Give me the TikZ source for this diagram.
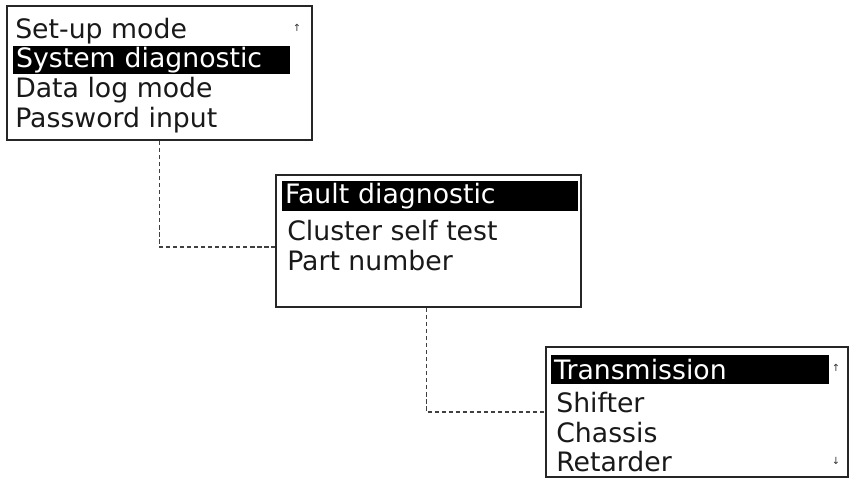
\documentclass[tikz,border=0pt]{standalone}
\usepackage{fontspec}
\setmainfont{DejaVu Sans}
\usetikzlibrary{positioning}

\begin{document}
\begin{tikzpicture}[x=0.025cm,y=-0.025cm,
  frame/.style={draw=black!85,line width=1.3pt,inner sep=0pt},
  item/.style={anchor=west,inner sep=0pt,text=black!90,font=\fontsize{19}{22}\selectfont},
  chosen/.style={item,fill=black,text=white,inner xsep=2pt,align=left,minimum height=0.72cm},
  scrollhint/.style={inner sep=0pt,text=black!80,font=\fontsize{7}{8}\selectfont},
  link/.style={densely dashed,line width=0.8pt,black!75}]
  \useasboundingbox (0,0) rectangle (853,480);
  % main menu
  \node[frame,minimum width=7.625cm,minimum height=3.35cm] (setup) at (159.5,73) {};
  \node[item] (s1) at (15,31) {Set-up mode};
  \node[chosen,text width=6.775cm] (s2) at (13,60) {System diagnostic};
  \node[item] (s3) at (15,90) {Data log mode};
  \node[item] (s4) at (15,120) {Password input};
  \node[scrollhint] (sup) at (297,28) {↑};
  % system diagnostic menu
  \node[frame,minimum width=7.625cm,minimum height=3.3cm] (diag) at (428.5,241) {};
  \node[chosen,text width=7.25cm,minimum height=0.75cm] (d1) at (282,196) {Fault diagnostic};
  \node[item] (d2) at (287,231) {Cluster self test};
  \node[item] (d3) at (287,261) {Part number};
  % fault diagnostic menu
  \node[frame,minimum width=7.55cm,minimum height=3.25cm] (group) at (697,412) {};
  \node[chosen,text width=6.8cm] (g1) at (551,369.5) {Transmission};
  \node[item] (g2) at (556,403) {Shifter};
  \node[item] (g3) at (556,433) {Chassis};
  \node[item] (g4) at (556,462) {Retarder};
  \node[scrollhint] (gup) at (836,368) {↑};
  \node[scrollhint] (gdown) at (836,461) {↓};
  % links
  \draw[link] (setup.south) |- ([yshift=-0.15cm]diag.west);
  \draw[link] ([xshift=-0.06cm]diag.south) |- (group.west);
\end{tikzpicture}
\end{document}
